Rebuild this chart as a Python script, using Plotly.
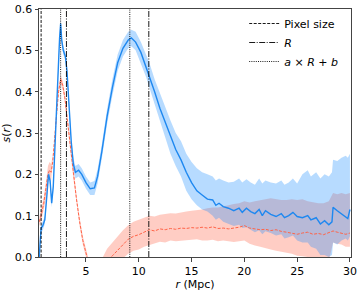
import plotly.graph_objects as go

# ---- data ----
r_blue = [0.57, 0.65, 0.75, 0.9, 1.1, 1.3, 1.45, 1.6, 1.75, 1.9, 2.1, 2.3, 2.5, 2.6, 2.7, 2.85, 3.05, 3.2, 3.4, 3.6,
          3.8, 4.0, 4.3, 4.6, 5.0, 5.4, 5.8, 6.1, 6.5, 7.0, 7.5, 8.0, 8.5, 9.0, 9.3, 9.7, 10.2, 10.7, 11.0, 11.5,
          12.0, 12.5, 13.0, 13.5, 14.0, 14.5, 15.0, 15.5, 16.0, 16.5, 17.0, 17.3, 17.6, 18.0, 18.5, 19.0, 19.5, 19.8,
          20.2, 20.6, 21.0, 21.4, 21.7, 22.0, 22.5, 23.0, 23.5, 23.8, 24.2, 24.6, 25.0, 25.5, 26.0, 26.3, 26.8, 27.2,
          27.6, 28.0, 28.3, 28.4, 28.8, 29.2, 29.6, 29.8, 30.0]
s_blue = [0.0, 0.04, 0.07, 0.075, 0.09, 0.15, 0.20, 0.185, 0.13, 0.17, 0.30, 0.42, 0.53, 0.565, 0.525, 0.50, 0.485, 0.45, 0.36, 0.28,
          0.225, 0.205, 0.21, 0.20, 0.18, 0.165, 0.167, 0.195, 0.255, 0.34, 0.41, 0.47, 0.505, 0.525, 0.53, 0.52, 0.495, 0.46, 0.44, 0.40,
          0.36, 0.325, 0.29, 0.26, 0.235, 0.205, 0.18, 0.16, 0.15, 0.14, 0.138, 0.125, 0.13, 0.122, 0.118, 0.112, 0.118, 0.108,
          0.118, 0.11, 0.105, 0.115, 0.10, 0.112, 0.103, 0.098, 0.105, 0.095, 0.10, 0.108, 0.098, 0.095, 0.10, 0.09, 0.095, 0.08,
          0.088, 0.078, 0.085, 0.12, 0.112, 0.105, 0.098, 0.093, 0.115]
s_blue_lo = [-0.01, 0.03, 0.06, 0.065, 0.08, 0.14, 0.19, 0.175, 0.12, 0.16, 0.29, 0.41, 0.52, 0.555, 0.515, 0.49, 0.475, 0.44, 0.35, 0.27,
             0.21, 0.19, 0.195, 0.185, 0.165, 0.15, 0.15, 0.178, 0.238, 0.322, 0.39, 0.45, 0.485, 0.505, 0.51, 0.50, 0.47, 0.435, 0.41, 0.37,
             0.325, 0.29, 0.25, 0.22, 0.195, 0.16, 0.14, 0.125, 0.115, 0.11, 0.10, 0.09, 0.095, 0.085, 0.08, 0.075, 0.078, 0.07,
             0.072, 0.066, 0.06, 0.065, 0.055, 0.062, 0.058, 0.052, 0.055, 0.045, 0.048, 0.052, 0.04, 0.035, 0.035, 0.025, 0.02, 0.005,
             0.005, 0.0, 0.005, 0.035, 0.03, 0.04, 0.045, 0.04, 0.05]
s_blue_hi = [0.01, 0.05, 0.08, 0.085, 0.10, 0.16, 0.21, 0.195, 0.14, 0.18, 0.31, 0.43, 0.54, 0.575, 0.535, 0.51, 0.495, 0.46, 0.37, 0.29,
             0.24, 0.22, 0.225, 0.215, 0.195, 0.18, 0.184, 0.212, 0.272, 0.358, 0.43, 0.49, 0.525, 0.545, 0.55, 0.545, 0.52, 0.49, 0.47, 0.43,
             0.395, 0.36, 0.33, 0.30, 0.28, 0.25, 0.23, 0.215, 0.205, 0.20, 0.195, 0.185, 0.19, 0.185, 0.18, 0.182, 0.19, 0.18,
             0.188, 0.18, 0.175, 0.19, 0.178, 0.185, 0.18, 0.178, 0.185, 0.175, 0.18, 0.19, 0.178, 0.20, 0.21, 0.195, 0.205, 0.19,
             0.20, 0.195, 0.205, 0.235, 0.232, 0.24, 0.245, 0.24, 0.25]

r_red = [0.57, 0.75, 1.0, 1.2, 1.4, 1.55, 1.7, 1.85, 2.0, 2.2, 2.4, 2.6, 2.8, 3.0, 3.2, 3.5, 3.8, 4.1, 4.4, 4.7,
         5.0, 5.3, 6.0, 6.6, 7.0, 7.5, 8.0, 8.5, 9.0, 9.5, 10.0, 10.5, 11.0, 11.5, 12.0, 12.5, 13.0, 13.5, 14.0, 14.5,
         15.0, 15.5, 16.0, 16.5, 17.0, 17.5, 18.0, 18.5, 19.0, 19.5, 20.0, 20.5, 21.0, 21.5, 22.0, 22.5, 23.0, 23.5,
         24.0, 24.5, 25.0, 25.5, 26.0, 26.5, 27.0, 27.5, 28.0, 28.4, 28.8, 29.2, 29.6, 30.0]
s_red = [0.085, 0.10, 0.13, 0.16, 0.20, 0.21, 0.205, 0.23, 0.27, 0.34, 0.40, 0.43, 0.415, 0.385, 0.34, 0.27, 0.20, 0.14, 0.085, 0.04,
         0.01, -0.02, -0.05, -0.025, -0.01, 0.003, 0.017, 0.03, 0.043, 0.05, 0.054, 0.06, 0.066, 0.063, 0.068, 0.066, 0.069, 0.067, 0.07, 0.069,
         0.071, 0.07, 0.072, 0.07, 0.073, 0.069, 0.07, 0.068, 0.07, 0.072, 0.076, 0.07, 0.068, 0.066, 0.067, 0.064, 0.066, 0.062,
         0.06, 0.058, 0.055, 0.058, 0.06, 0.055, 0.057, 0.054, 0.06, 0.063, 0.06, 0.058, 0.055, 0.058]
s_red_lo = [0.075, 0.085, 0.115, 0.14, 0.18, 0.19, 0.185, 0.215, 0.26, 0.33, 0.39, 0.42, 0.405, 0.375, 0.33, 0.26, 0.19, 0.13, 0.075, 0.03,
            0.0, -0.03, -0.08, -0.055, -0.045, -0.03, -0.015, -0.003, 0.008, 0.015, 0.018, 0.025, 0.03, 0.033, 0.037, 0.035, 0.04, 0.038, 0.04, 0.04,
            0.042, 0.043, 0.04, 0.04, 0.042, 0.038, 0.04, 0.038, 0.036, 0.038, 0.04, 0.032, 0.028, 0.025, 0.022, 0.018, 0.015, 0.013,
            0.01, 0.008, 0.003, 0.002, 0.0, -0.005, -0.008, -0.01, -0.01, 0.035, 0.032, 0.03, 0.025, 0.025]
s_red_hi = [0.095, 0.115, 0.145, 0.18, 0.22, 0.23, 0.225, 0.245, 0.28, 0.35, 0.41, 0.44, 0.425, 0.395, 0.35, 0.28, 0.21, 0.15, 0.095, 0.05,
            0.02, -0.01, -0.02, 0.0, 0.02, 0.035, 0.05, 0.065, 0.077, 0.085, 0.09, 0.095, 0.10, 0.098, 0.102, 0.104, 0.106, 0.105, 0.108, 0.11,
            0.112, 0.113, 0.115, 0.118, 0.12, 0.12, 0.122, 0.125, 0.128, 0.13, 0.135, 0.132, 0.135, 0.138, 0.14, 0.142, 0.14, 0.138,
            0.138, 0.14, 0.138, 0.14, 0.135, 0.132, 0.13, 0.13, 0.135, 0.155, 0.152, 0.155, 0.152, 0.155]

pixel_size = [0.75]
radius_R = [3.15, 10.95]
fit_aRb = [2.6, 9.15]

x_ticks = [5, 10, 15, 20, 25, 30]
y_ticks = [0.0, 0.1, 0.2, 0.3, 0.4, 0.5, 0.6]

BLUE = "#1e88f0"
RED = "#ff6347"

fig = go.Figure()

# fills (red first, blue on top)
fig.add_trace(go.Scatter(x=r_red + r_red[::-1], y=s_red_hi + s_red_lo[::-1], fill="toself",
                         fillcolor="rgba(255,99,71,0.32)", line=dict(width=0), mode="lines",
                         hoverinfo="skip", showlegend=False))
fig.add_trace(go.Scatter(x=r_blue + r_blue[::-1], y=s_blue_hi + s_blue_lo[::-1], fill="toself",
                         fillcolor="rgba(30,144,255,0.32)", line=dict(width=0), mode="lines",
                         hoverinfo="skip", showlegend=False))
# lines
fig.add_trace(go.Scatter(x=r_red, y=s_red, mode="lines", line=dict(color=RED, width=1, dash="3px,1.5px"),
                         showlegend=False))
fig.add_trace(go.Scatter(x=r_blue, y=s_blue, mode="lines", line=dict(color=BLUE, width=1.4),
                         showlegend=False))

def vlines(xs, name, dash):
    for i, v in enumerate(xs):
        fig.add_trace(go.Scatter(x=[v, v], y=[0, 0.6], mode="lines", name=name, legendgroup=name,
                                 showlegend=(i == 0), line=dict(color="black", width=0.9, dash=dash)))

vlines(pixel_size, "Pixel size", "3px,1.5px")
vlines(radius_R, "<i>R</i>", "6px,1.5px,1px,1.5px")
vlines(fit_aRb, "<i>a</i> × <i>R</i> + <i>b</i>", "1px,1.2px")

axis_common = dict(showline=True, linecolor="#444", linewidth=1, mirror=True, ticks="outside",
                   ticklen=3.5, tickwidth=0.8, tickcolor="#444", showgrid=False, zeroline=False,
                   tickfont=dict(size=11, color="black"), automargin=False)

fig.update_layout(
    width=363, height=291,
    margin=dict(l=39, r=12, t=9, b=34),
    paper_bgcolor="white", plot_bgcolor="white",
    font=dict(family="DejaVu Sans", size=11, color="black"),
    xaxis=dict(range=[0.55, 30.1], tickvals=x_ticks, ticktext=[str(v) for v in x_ticks],
               title=dict(text="<i>r</i> (Mpc)", font=dict(size=11), standoff=3), **axis_common),
    yaxis=dict(range=[0, 0.6], tickvals=y_ticks, ticktext=[f"{v:.1f}" for v in y_ticks],
               title=dict(text="<i>s</i>(<i>r</i>)", font=dict(size=11), standoff=2), **axis_common),
    legend=dict(x=0.975, xanchor="right", y=1.0, yanchor="top", bgcolor="rgba(0,0,0,0)",
                font=dict(size=11), itemwidth=30, tracegroupgap=0),
)

fig.write_html("out.html", config={"displayModeBar": False},
               post_script="document.body.style.margin='0px';document.body.style.overflow='hidden';")
